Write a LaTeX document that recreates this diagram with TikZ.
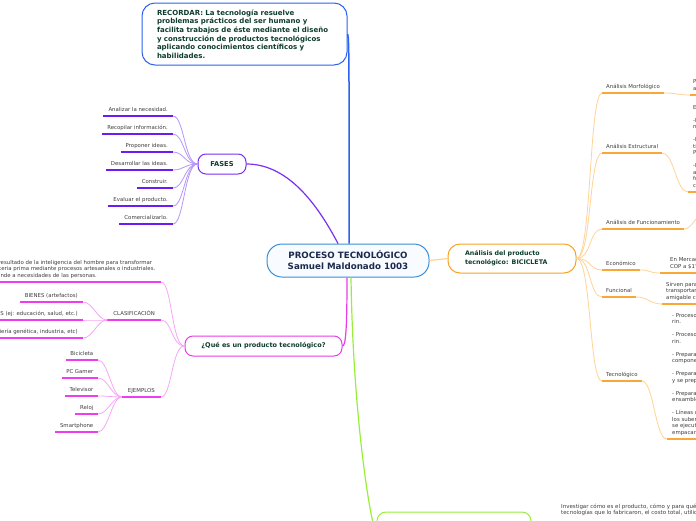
\documentclass[tikz,border=0pt]{standalone}
\usepackage{fontspec}
\setmainfont{DejaVu Sans}
\definecolor{cBlue}{HTML}{2B62F0}
\definecolor{cMainB}{HTML}{3B8ED4}
\definecolor{cMainF}{HTML}{F8FBFF}
\definecolor{cMainT}{HTML}{1B2A4C}
\definecolor{cHdrT}{HTML}{0E3C2E}
\definecolor{cPur}{HTML}{7A2FF2}
\definecolor{cPurU}{HTML}{6C1CF2}
\definecolor{cPurL}{HTML}{B695F8}
\definecolor{cMag}{HTML}{E83CE8}
\definecolor{cMagU}{HTML}{EE3CEE}
\definecolor{cMagL}{HTML}{F6A6F6}
\definecolor{cOra}{HTML}{F6A321}
\definecolor{cOraU}{HTML}{F7A837}
\definecolor{cOraL}{HTML}{FFD396}
\definecolor{cGrn}{HTML}{98EE38}
\definecolor{cLeaf}{HTML}{3E3E3E}
\newcommand\mmstrut{\rule[-4.5pt]{0pt}{4.5pt}}
\begin{document}
\begin{tikzpicture}[x=1pt,y=-1pt,
  box/.style={draw, line width=1pt, rounded corners=#1, fill=white, inner sep=0pt},
  leaf/.style={inner ysep=0pt, font=\fontsize{5.4}{6.5}\selectfont, text=cLeaf, execute at end node=\mmstrut},
  leafL/.style={leaf, anchor=south east, align=right, inner xsep=5pt},
  leafR/.style={leaf, anchor=south west, align=left, inner xsep=4pt},
  ulP/.style={draw=cPurU, line width=1.6pt},
  cnP/.style={draw=cPurL, line width=0.8pt},
  ulM/.style={draw=cMagU, line width=1.6pt},
  cnM/.style={draw=cMagL, line width=0.8pt},
  ulO/.style={draw=cOraU, line width=1.6pt},
  cnO/.style={draw=cOraL, line width=0.8pt},
]
\useasboundingbox (0,0) rectangle (696,520);

% ---------- main nodes ----------
\node[box=15pt, draw=cMainB, fill=cMainF, minimum width=162pt, minimum height=33pt,
      align=center, text=cMainT, font=\fontsize{8.7}{11}\selectfont\bfseries]
  (main) at (348,260.5) {PROCESO TECNOLÓGICO\\Samuel Maldonado 1003};

\node[box=13pt, draw=cBlue, minimum width=205pt, minimum height=62pt,
      text width=175pt, align=left, text=cHdrT, font=\fontsize{7}{8.6}\selectfont\bfseries]
  (rec) at (244.5,34) {RECORDAR: La tecnología resuelve\\problemas prácticos del ser humano y\\facilita trabajos de éste mediante el diseño\\y construcción de productos tecnológicos\\aplicando conocimientos científicos y\\habilidades.};

\node[box=8pt, draw=cPur, minimum width=48pt, minimum height=20pt,
      text=cHdrT, font=\fontsize{6.7}{8}\selectfont\bfseries]
  (fases) at (222,164) {FASES};

\node[box=8pt, draw=cMag, minimum width=157pt, minimum height=20pt,
      text=cHdrT, font=\fontsize{6.5}{8}\selectfont\bfseries]
  (q) at (263.5,346) {¿Qué es un producto tecnológico?};

\node[box=12pt, draw=cOra, minimum width=128pt, minimum height=29pt,
      text width=94pt, align=left, text=cHdrT, font=\fontsize{6.3}{9.3}\selectfont\bfseries]
  (bic) at (512,258.5) {Análisis del producto\\tecnológico: BICICLETA};

\node[box=9pt, draw=cGrn, minimum width=154pt, minimum height=46pt] (inv) at (454,535) {};

% ---------- main connectors ----------
\draw[cBlue, line width=1.5pt] ([xshift=1pt]main.north) .. controls +(0,-150) and +(2,0) .. (rec.east);
\draw[cPur, line width=1.2pt] (fases.east) .. controls +(44,0) and +(-18,-34) .. ([xshift=-10pt]main.north);
\draw[cMag, line width=1.2pt] ([xshift=-1pt]main.south) .. controls +(0,55) and +(3,0) .. (q.east);
\draw[cGrn, line width=1.2pt] ([xshift=3pt]main.south) .. controls +(2,140) and +(-6,-12) .. (inv.west);
\draw[cOraL, line width=1.2pt] (main.east) -- (bic.west);

% ---------- FASES leaves ----------
\node[leafL] (a1) at (173,116) {Analizar la necesidad.};
\node[leafL] (a2) at (173,134) {Recopilar información.};
\node[leafL] (a3) at (173,152) {Proponer ideas.};
\node[leafL] (a4) at (173,170) {Desarrollar las ideas.};
\node[leafL] (a5) at (173,188) {Construir.};
\node[leafL] (a6) at (173,206) {Evaluar el producto.};
\node[leafL] (a7) at (173,224) {Comercializarlo.};
\foreach \n in {a1,a2,a3,a4,a5,a6,a7}{
  \draw[cnP] (fases.west) .. controls +(-13,0) and +(11,0) .. (\n.south east);
  \draw[ulP] (\n.south west) -- (\n.south east);
}

% ---------- question leaves ----------
\node[leafL, inner xsep=5.5pt, align=left] (def) at (161,282) {Es el resultado de la inteligencia del hombre para transformar\\la materia prima mediante procesos artesanales o industriales.\\Responde a necesidades de las personas.};
\node[leafL, inner xsep=6pt] (clas) at (161,320) {CLASIFICACIÓN};
\node[leafL, inner xsep=6pt] (ejem) at (161,397) {EJEMPLOS};
\foreach \n in {def,clas,ejem}{
  \draw[cnM] (q.west) .. controls +(-13,0) and +(11,0) .. (\n.south east);
  \draw[ulM] (\n.south west) -- (\n.south east);
}
\node[leafL] (c1) at (83,302) {BIENES (artefactos)};
\node[leafL] (c2) at (83,320) {SERVICIOS (ej: educación, salud, etc.)};
\node[leafL] (c3) at (83,338) {PROCESOS (ingeniería genética, industria, etc)};
\foreach \n in {c1,c2,c3}{
  \draw[cnM] (clas.south west) .. controls +(-10,0) and +(10,0) .. (\n.south east);
  \draw[ulM] (\n.south west) -- (\n.south east);
}
\node[leafL, inner xsep=4.5pt] (e1) at (98,360) {Bicicleta};
\node[leafL, inner xsep=4.5pt] (e2) at (98,378) {PC Gamer};
\node[leafL, inner xsep=4.5pt] (e3) at (98,396) {Televisor};
\node[leafL, inner xsep=4.5pt] (e4) at (98,414) {Reloj};
\node[leafL, inner xsep=4.5pt] (e5) at (98,432) {Smartphone};
\foreach \n in {e1,e2,e3,e4,e5}{
  \draw[cnM] (ejem.south west) .. controls +(-10,0) and +(10,0) .. (\n.south east);
  \draw[ulM] (\n.south west) -- (\n.south east);
}

% ---------- bicicleta leaves ----------
\node[leafR] (morf) at (602,93) {Análisis Morfológico};
\node[leafR] (estr) at (602,153) {Análisis Estructural};
\node[leafR] (funct) at (602,229) {Análisis de Funcionamiento};
\node[leafR] (econ) at (602,270) {Económico};
\node[leafR] (func) at (602,297) {Funcional};
\node[leafR] (tecn) at (602,381) {Tecnológico};
\foreach \n in {morf,estr,funct,econ,func,tecn}{
  \draw[cnO] (bic.east) .. controls +(15,0) and +(-13,0) .. (\n.south west);
  \draw[ulO] (\n.south west) -- (\n.south east);
}

\node[leafR, inner xsep=3pt] (morfC) at (690,95) {Presenta una forma ergonómica\\adaptable al usuario.};
\node[leafR, inner xsep=5pt] (estrC) at (688,192) {Está compuesta por:\\[6.5pt]-las ruedas que tienen llantas y\\neumáticos.\\[6.5pt]-la transmisión formada por pedales,\\tijera, cadena y piñones.\\Permite el movimiento.\\[6.5pt]-los frenos que detienen la bicicleta\\al accionar las palancas de\\freno, que halan los\\cables.};
\node[leafR, inner xsep=10pt] (econC) at (660,273) {En Mercado Libre cuesta desde \$300.000\\COP a \$1'500.000 COP.};
\node[leafR, inner xsep=4pt] (funcC) at (662,304) {Sirven para desplazarse y\\transportarse de manera\\amigable con el ambiente.};
\node[leafR, inner xsep=5pt] (tecnC) at (667,439) {- Procesos de corte y doblado del\\rin.\\[6.5pt]- Procesos de soldadura del\\rin.\\[6.5pt]- Preparación de los\\componentes del marco.\\[6.5pt]- Preparación del marco\\y se prepara la pintura.\\[6.5pt]- Preparación para el\\ensamble final.\\[6.5pt]- Líneas de ensamble donde\\los suben a la banda y\\se ejecutan las tareas para\\empacar.};
\coordinate (functC) at (704,212);
\draw[cnO] (funct.south east) .. controls +(8,0) and +(-6,0) .. (functC);
\foreach \p/\c in {morf/morfC,estr/estrC,econ/econC,func/funcC,tecn/tecnC}{
  \draw[cnO] (\p.south east) .. controls +(12,0) and +(-12,0) .. (\c.south west);
  \draw[ulO] (\c.south west) -- (\c.south east);
}

% ---------- bottom text ----------
\node[anchor=base west, inner sep=0pt, align=left, text=cLeaf, font=\fontsize{5.5}{6.2}\selectfont]
  (invT) at (561,514.5) {Investigar cómo es el producto, cómo y para qué funciona,\\tecnologías que lo fabricaron, el costo total, utilidad.};
\end{tikzpicture}
\end{document}
